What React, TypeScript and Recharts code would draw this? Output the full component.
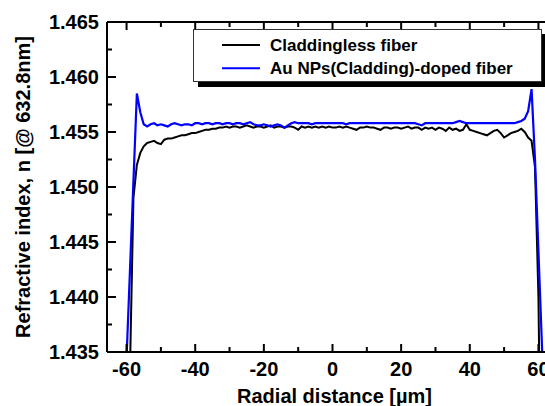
import React from 'react';
import { LineChart, Line, XAxis, YAxis } from 'recharts';

// Radial position (µm)
const radialDistance = [
  -62, -61, -60, -59, -58, -57, -56, -55, -54, -53, -52, -51, -50, -49, -48, -47, -46, -45, -44, -43, -42,
  -41, -40, -39, -38, -37, -36, -35, -34, -33, -32, -31, -30, -29, -28, -27, -26, -25, -24, -23, -22, -21,
  -20, -19, -18, -17, -16, -15, -14, -13, -12, -11, -10, -9, -8, -7, -6, -5, -4, -3, -2, -1, 0,
  1, 2, 3, 4, 5, 6, 7, 8, 9, 10, 11, 12, 13, 14, 15, 16, 17, 18, 19, 20,
  21, 22, 23, 24, 25, 26, 27, 28, 29, 30, 31, 32, 33, 34, 35, 36, 37, 38, 39, 40, 41,
  42, 43, 44, 45, 46, 47, 48, 49, 50, 51, 52, 53, 54, 55, 56, 57, 58, 59, 60, 61, 62,
];

// Claddingless fiber (black)
const claddinglessFiber = [
  1.39, 1.405, 1.418, 1.4335, 1.449, 1.452, 1.4531, 1.4537, 1.454, 1.4541, 1.4542, 1.454, 1.4539, 1.4543, 1.4544, 1.4544, 1.4545, 1.4546, 1.4547, 1.4547, 1.4548,
  1.4549, 1.4549, 1.455, 1.4551, 1.4552, 1.4552, 1.4553, 1.4553, 1.4554, 1.4554, 1.4555, 1.4554, 1.4555, 1.4555, 1.4554, 1.4555, 1.4556, 1.4555, 1.4554, 1.4555, 1.4555,
  1.4554, 1.4555, 1.4556, 1.4554, 1.4555, 1.4555, 1.4554, 1.4555, 1.4555, 1.4554, 1.4552, 1.4555, 1.4554, 1.4555, 1.4554, 1.4555, 1.4554, 1.4555, 1.4554, 1.4555, 1.4554,
  1.4554, 1.4555, 1.4554, 1.4555, 1.4554, 1.4553, 1.4552, 1.4554, 1.4554, 1.4555, 1.4554, 1.4554, 1.4553, 1.4552, 1.4554, 1.4554, 1.4553, 1.4554, 1.4554, 1.4553,
  1.4554, 1.4555, 1.4553, 1.4554, 1.4554, 1.4552, 1.4554, 1.4553, 1.4554, 1.4552, 1.4554, 1.4553, 1.4551, 1.4554, 1.4552, 1.4553, 1.4551, 1.4552, 1.4557, 1.4552, 1.4551,
  1.455, 1.4549, 1.4548, 1.4547, 1.4549, 1.4551, 1.4552, 1.4549, 1.4545, 1.4547, 1.4549, 1.455, 1.4551, 1.4553, 1.455, 1.4545, 1.4542, 1.4518, 1.44, 1.415, 1.395,
];

// Au NPs(Cladding)-doped fiber (blue)
const auNpsDopedFiber = [
  1.41, 1.4265, 1.4345, 1.4425, 1.4505, 1.4585, 1.4568, 1.4557, 1.4555, 1.4557, 1.4558, 1.4556, 1.4557, 1.4556, 1.4555, 1.4557, 1.4558, 1.4557, 1.4556, 1.4557, 1.4557,
  1.4556, 1.4558, 1.4558, 1.4557, 1.4558, 1.4558, 1.4557, 1.4558, 1.4558, 1.4557, 1.4558, 1.4558, 1.4557, 1.4558, 1.4558, 1.4557, 1.4558, 1.4559, 1.4557, 1.4556, 1.4556,
  1.4557, 1.4556, 1.4555, 1.4556, 1.4557, 1.4556, 1.4554, 1.4556, 1.4558, 1.4559, 1.4558, 1.4558, 1.4558, 1.4558, 1.4557, 1.4558, 1.4558, 1.4558, 1.4558, 1.4558, 1.4558,
  1.4558, 1.4558, 1.4558, 1.4557, 1.4558, 1.4558, 1.4558, 1.4558, 1.4558, 1.4558, 1.4558, 1.4558, 1.4558, 1.4558, 1.4558, 1.4558, 1.4558, 1.4558, 1.4558, 1.4558,
  1.4558, 1.4558, 1.4558, 1.4558, 1.4557, 1.4556, 1.4558, 1.4558, 1.4558, 1.4558, 1.4558, 1.4558, 1.4558, 1.4558, 1.4558, 1.4559, 1.456, 1.4559, 1.4558, 1.4558, 1.4558,
  1.4558, 1.4558, 1.4558, 1.4558, 1.4558, 1.4558, 1.4558, 1.4558, 1.4558, 1.4558, 1.4558, 1.4558, 1.4559, 1.456, 1.4562, 1.4569, 1.4589, 1.4525, 1.4442, 1.4358, 1.4275,
];

const seriesNames = ['Claddingless fiber', 'Au NPs(Cladding)-doped fiber'];
const seriesColors = ['#000000', '#0000ff'];

const xMajorTicks = [-60, -40, -20, 0, 20, 40, 60];
const xMinorTicks = [-50, -30, -10, 10, 30, 50];
const yMajorTicks = [1.435, 1.44, 1.445, 1.45, 1.455, 1.46, 1.465];
const yMinorTicks = [1.4375, 1.4425, 1.4475, 1.4525, 1.4575, 1.4625];

const xTitle = 'Radial distance [µm]';
const yTitle = 'Refractive index, n [@ 632.8nm]';

const xDomain = [-65.7, 65.7];
const yDomain = [1.435, 1.465];

const data = radialDistance.map((x, i) => ({
  x,
  cladless: claddinglessFiber[i],
  auDoped: auNpsDopedFiber[i],
}));

const FONT = '"Liberation Sans", Arial, Helvetica, sans-serif';
const isXMajor = (v: number) => xMajorTicks.some((t) => Math.abs(t - v) < 1e-9);
const isYMajor = (v: number) => yMajorTicks.some((t) => Math.abs(t - v) < 1e-9);

const BottomTick = (props: any) => {
  const { x, y, payload } = props;
  const major = isXMajor(payload.value);
  return (
    <g>
      <line x1={x} x2={x} y1={y} y2={y - (major ? 8 : 5)} stroke="#000" strokeWidth={2} />
      {major && (
        <text x={x} y={y + 9.5} dy="0.71em" textAnchor="middle" fill="#000"
          style={{ fontFamily: FONT, fontSize: 20, fontWeight: 'bold' }}>
          {payload.value}
        </text>
      )}
    </g>
  );
};

const TopTick = (props: any) => {
  const { x, y, payload } = props;
  const major = isXMajor(payload.value);
  return <line x1={x} x2={x} y1={y} y2={y + (major ? 8 : 5)} stroke="#000" strokeWidth={2} />;
};

const LeftTick = (props: any) => {
  const { x, y, payload } = props;
  const major = isYMajor(payload.value);
  return (
    <g>
      <line x1={x} x2={x + (major ? 9 : 5)} y1={y} y2={y} stroke="#000" strokeWidth={2} />
      {major && (
        <text x={x - 8} y={y} dy="0.355em" textAnchor="end" fill="#000"
          style={{ fontFamily: FONT, fontSize: 20, fontWeight: 'bold' }}>
          {Number(payload.value).toFixed(3)}
        </text>
      )}
    </g>
  );
};

const renderXTitle = (props: any) => {
  const vb = props.viewBox || { x: 107, y: 352, width: 451, height: 30 };
  return (
    <text x={vb.x + vb.width / 2 + 2} y={vb.y + 51} textAnchor="middle" fill="#000"
      style={{ fontFamily: FONT, fontSize: 20, fontWeight: 'bold' }}>
      {xTitle}
    </text>
  );
};

const renderYTitle = (props: any) => {
  const vb = props.viewBox || { x: 0, y: 22, width: 107, height: 330 };
  const cx = vb.x + 29.5;
  const cy = vb.y + vb.height / 2;
  return (
    <text x={cx} y={cy} transform={`rotate(-90 ${cx} ${cy})`} textAnchor="middle" fill="#000"
      style={{ fontFamily: FONT, fontSize: 20, fontWeight: 'bold' }}>
      {yTitle}
    </text>
  );
};

// Legend box (frame with drop shadow), drawn as an SVG overlay
const LegendBox = () => (
  <svg width={545} height={406}
    style={{ position: 'absolute', left: 0, top: 0, pointerEvents: 'none', display: 'block' }}>
    <g transform="translate(193 29)">
      <rect x={5} y={5} width={349} height={53} fill="#000" />
      <rect x={0.5} y={0.5} width={348} height={52} fill="#fff" stroke="#333" strokeWidth={1} />
      {seriesNames.map((name, i) => {
        const ly = 16 + i * 23.3;
        return (
          <g key={name}>
            <line x1={29} x2={67} y1={ly} y2={ly} stroke={seriesColors[i]} strokeWidth={2} />
            <text x={77} y={ly + 5.5} fill="#000"
              style={{ fontFamily: FONT, fontSize: 17, fontWeight: 'bold' }}>
              {name}
            </text>
          </g>
        );
      })}
    </g>
  </svg>
);

export default function App() {
  return (
    <div style={{ position: 'fixed', left: 0, top: 0, width: 545, height: 406, overflow: 'hidden', background: '#fff' }}>
      <LineChart width={570} height={406} data={data} margin={{ top: 2, right: 12, bottom: 24, left: 0 }}>
        <XAxis dataKey="x" type="number" domain={xDomain} ticks={[...xMajorTicks, ...xMinorTicks]}
          interval={0} tickSize={0} tickMargin={0} tick={<BottomTick />} height={30}
          axisLine={{ stroke: '#000', strokeWidth: 2 }} allowDataOverflow
          label={{ content: renderXTitle }} />
        <XAxis xAxisId="top" orientation="top" dataKey="x" type="number" domain={xDomain}
          ticks={[...xMajorTicks, ...xMinorTicks]} interval={0} tickSize={0} tickMargin={0}
          tick={<TopTick />} height={20} axisLine={{ stroke: '#000', strokeWidth: 2 }} allowDataOverflow />
        <YAxis type="number" domain={yDomain} ticks={[...yMajorTicks, ...yMinorTicks]} interval={0}
          tickSize={0} tickMargin={0} tick={<LeftTick />} width={107}
          axisLine={{ stroke: '#000', strokeWidth: 2 }} allowDataOverflow
          label={{ content: renderYTitle }} />
        <Line type="linear" dataKey="cladless" name={seriesNames[0]} stroke={seriesColors[0]}
          strokeWidth={2} dot={false} activeDot={false} isAnimationActive={false} />
        <Line type="linear" dataKey="auDoped" name={seriesNames[1]} stroke={seriesColors[1]}
          strokeWidth={2.2} dot={false} activeDot={false} isAnimationActive={false} />
      </LineChart>
      <LegendBox />
    </div>
  );
}
